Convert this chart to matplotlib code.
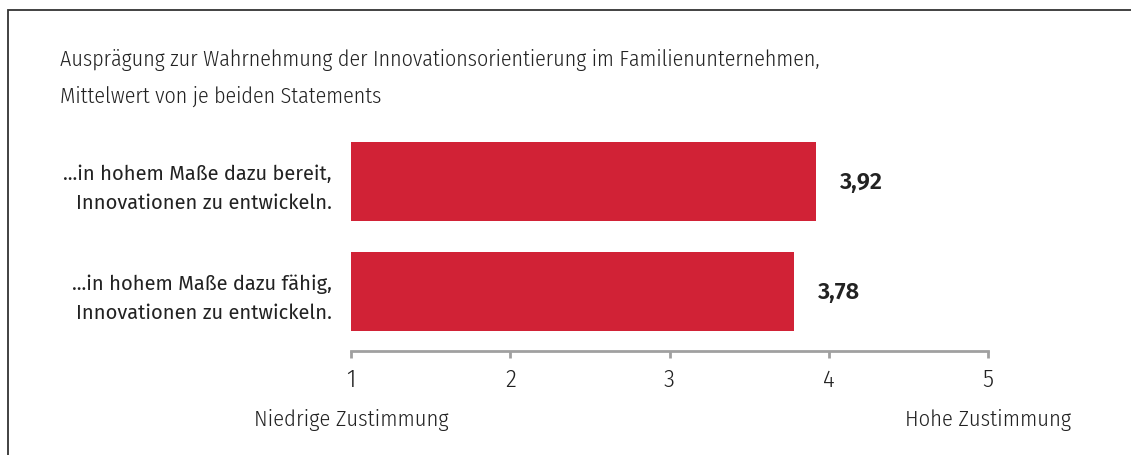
import matplotlib
matplotlib.use('Agg')
import matplotlib.pyplot as plt
from matplotlib.patches import Rectangle

TITLE = ('Ausprägung zur Wahrnehmung der Innovationsorientierung im Familienunternehmen,\n'
         'Mittelwert von je beiden Statements')
CATEGORIES = ['...in hohem Maße dazu bereit,\nInnovationen zu entwickeln.',
              '...in hohem Maße dazu fähig,\nInnovationen zu entwickeln.']
VALUES = [3.92, 3.78]
TICKS = [1, 2, 3, 4, 5]
SCALE_LOW = 'Niedrige Zustimmung'
SCALE_HIGH = 'Hohe Zustimmung'

RED = '#d12236'
GREY = '#a0a0a0'
TEXT = '#222222'
NARROW = ['Fira Sans Condensed', 'DejaVu Sans']
WIDE = ['Fira Sans', 'DejaVu Sans']

W, H = 1131, 456


def main():
    fig = plt.figure(figsize=(W / 100, H / 100), dpi=100)

    # frame: only top and left edges visible in the reference
    fig.patches.append(Rectangle((8 / W, -0.2), 2, (H - 11) / H + 0.2,
                                 transform=fig.transFigure, fill=False,
                                 edgecolor='#333333', linewidth=1.3))

    fig.text(60 / W, 1 - 49 / H, TITLE, fontsize=15.8, family=NARROW,
             fontweight=300, color=TEXT, va='top', ha='left',
             linespacing=1.87)

    ax = fig.add_axes([351 / W, (H - 352) / H, 637 / W, 224.5 / H])
    ypos = list(range(len(VALUES)))
    ax.barh(ypos, [v - TICKS[0] for v in VALUES], left=TICKS[0],
            height=0.72, color=RED)
    for y, v in zip(ypos, VALUES):
        ax.text(v + 0.15, y, f'{v:.2f}'.replace('.', ','), va='center',
                ha='left', fontsize=17, fontweight=600, family=WIDE,
                color=TEXT)

    ax.set_xlim(TICKS[0], TICKS[-1])
    ax.set_ylim(1.541, -0.5)
    ax.set_xticks(TICKS)
    ax.set_xticklabels([str(t) for t in TICKS], family=NARROW, fontsize=18,
                       fontweight=300, color=TEXT)
    ax.tick_params(axis='x', direction='out', length=5, width=2,
                   color=GREY, pad=7)
    ax.set_yticks(ypos)
    ax.set_yticklabels(CATEGORIES, family=WIDE, fontsize=14.5, color=TEXT,
                       fontweight=400, linespacing=1.55)
    ax.tick_params(axis='y', length=0, pad=14)
    for side in ['top', 'right', 'left']:
        ax.spines[side].set_visible(False)
    ax.spines['bottom'].set_color(GREY)
    ax.spines['bottom'].set_linewidth(2)

    for label, x in [(SCALE_LOW, TICKS[0]), (SCALE_HIGH, TICKS[-1])]:
        ax.annotate(label, (x, 0), xycoords=('data', 'axes fraction'),
                    xytext=(0, -68), textcoords='offset pixels', ha='center',
                    va='center', fontsize=16.2, family=NARROW, fontweight=300,
                    color=TEXT)

    fig.savefig('out.png', dpi=100)


if __name__ == '__main__':
    main()
